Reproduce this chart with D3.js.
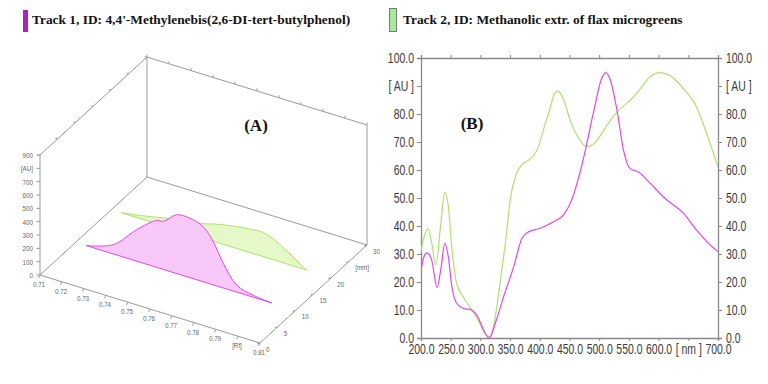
<!DOCTYPE html>
<html><head><meta charset="utf-8">
<script src="https://cdn.jsdelivr.net/npm/d3@7"></script>
<style>
html,body{margin:0;padding:0;background:#fff;}
svg{display:block;}
.ax text, text.ax{font-family:"Liberation Sans",Arial,sans-serif;}
</style></head>
<body>
<svg id="c" width="768" height="384"></svg>
<script>
// ---------- DATA ----------
const legendLabels = ["Track 1, ID: 4,4'-Methylenebis(2,6-DI-tert-butylphenol)", "Track 2, ID: Methanolic extr. of flax microgreens"];
const panelLabels = ["(A)", "(B)"];

// 3D densitogram (panel A)
const rfTicks = [0.71,0.72,0.73,0.74,0.75,0.76,0.77,0.78,0.79,0.80,0.81];
const rfTickLabels = ["0.71","0.72","0.73","0.74","0.75","0.76","0.77","0.78","0.79","[Rf]","0.81"];
const mmTicks = [0,5,10,15,20,25,30];
const mmTickLabels = ["0","5","10","15","20","[mm]","30"];
const auTicks3d = [0,100,200,300,400,500,600,700,800,900];
const auTickLabels3d = ["0","100","200","300","400","500","600","700","[AU]","900"];
const track1Pos = 10, track2Pos = 20;
const track1Rf = [0.7147,0.7271,0.7377,0.7468,0.7498,0.7559,0.762,0.768,0.7726,0.7771,0.7832,0.7907,0.7991];
const track1AU = [0,70,236,352,360,441,446,412,322,185,52,15,0];
const track2Rf = [0.7145,0.7261,0.7336,0.7473,0.7533,0.7563,0.7639,0.773,0.7791,0.7836,0.7897,0.7943,0.7988];
const track2AU = [0,33,59,95,114,129,155,176,181,155,98,45,0];

// 2D spectra (panel B)
const nmTicks = [200,250,300,350,400,450,500,550,600,650,700];
const nmTickLabels = ["200.0","250.0","300.0","350.0","400.0","450.0","500.0","550.0","600.0","[ nm ]","700.0"];
const auTicks = [0,10,20,30,40,50,60,70,80,90,100];
const auTickLabels = ["0.0","10.0","20.0","30.0","40.0","50.0","60.0","70.0","80.0","[ AU ]","100.0"];
const spec1Nm = [200,205,210,218,227,234,240,246,252,260,271,285,297,303,308,315,325,339,356,370,381,400,423,440,455,465,475,490,504,511,518,530,541,552,566,586,611,642,664,684,700];
const spec1AU = [24.3,29,30.4,27.8,18.1,25.4,33.8,29,18.3,12.4,10.6,10,7,4,1.7,0,5.2,14.7,25.4,35.6,37.9,39.1,41.5,44,50,57,65.5,80.2,92.6,94.8,92.6,81.3,67,60.5,59.3,55.2,49.8,44.5,38.5,33.8,30.8];
const spec2Nm = [200,205,212,218,225,233,240,246,252,260,271,282,296,304,310,316,322,333,344,350,361,372,380,395,411,418,424,430,436,442,451,468,479,487,496,515,530,555,569,585,602,619,642,661,681,700];
const spec2AU = [31,36,39,34,26,40,52,47,32,19.5,14.7,11.2,6.4,3,1,0.5,4,19.5,37.4,49,58.8,62.3,63.3,67,77.8,82.5,87,88.2,87,84,77.8,70.6,68.3,68.8,70.6,76.6,80.7,85.5,89,93.2,94.8,93.8,89,83.7,73,61];

// ---------- DRAW ----------
const svg = d3.select("#c");
const col1 = "#e048e8", fill1 = "#f8c8f8";
const col2 = "#b0e070", fill2 = "#e4f8c8";
const boxCol = "#9a9a9a";

function narrow(sel, k){
  sel.each(function(){
    const w = this.getComputedTextLength();
    if (w > 0) { this.setAttribute("textLength", (w*k).toFixed(2)); this.setAttribute("lengthAdjust","spacingAndGlyphs"); }
  });
}

// Legend
svg.append("rect").attr("x",23).attr("y",10).attr("width",5).attr("height",22).attr("fill","#b41cc4");
svg.append("rect").attr("x",389.5).attr("y",8.5).attr("width",7).attr("height",23).attr("fill","#a8e8a0").attr("stroke","#708070");
svg.selectAll("text.leg").data(legendLabels).enter().append("text")
  .attr("x",(d,i)=>i?403:32).attr("y",24)
  .attr("font-family","'Liberation Serif','Times New Roman',serif").attr("font-weight","bold")
  .attr("font-size",13.4).attr("fill","#111").text(d=>d);

// ---------- Panel A: 3D ----------
const rS = d3.scaleLinear().domain([0.71,0.81]).range([0,1]);
const nS = d3.scaleLinear().domain([0,30]).range([0,1]);
const zS = d3.scaleLinear().domain([0,900]).range([0,1]);
const O = [40,275], vR=[220,68], vN=[107,-98], vZ=[0,-120];
function P(rf,mm,au){
  const a=rS(rf), b=nS(mm), c=zS(au);
  return [O[0]+a*vR[0]+b*vN[0]+c*vZ[0], O[1]+a*vR[1]+b*vN[1]+c*vZ[1]];
}
const gA = svg.append("g");
function seg(p,q){ gA.append("line").attr("x1",p[0]).attr("y1",p[1]).attr("x2",q[0]).attr("y2",q[1]).attr("stroke",boxCol).attr("stroke-width",1); }
const r0=0.71,r1=0.81,m0=0,m1=30,z0=0,z1=900;
seg(P(r0,m0,z0),P(r0,m0,z1));
seg(P(r0,m0,z1),P(r0,m1,z1));
seg(P(r0,m1,z0),P(r0,m1,z1));
seg(P(r0,m0,z0),P(r0,m1,z0));
seg(P(r0,m1,z1),P(r1,m1,z1));
seg(P(r1,m1,z0),P(r1,m1,z1));
seg(P(r0,m1,z0),P(r1,m1,z0));
seg(P(r0,m0,z0),P(r1,m0,z0));
seg(P(r1,m0,z0),P(r1,m1,z0));

rfTicks.forEach(r=>{ const p=P(r,m1,z1); seg(p,[p[0],p[1]-2.5]); });
mmTicks.forEach(m=>{ const p=P(r0,m,z1); seg(p,[p[0]-2.5,p[1]]); });
auTicks3d.forEach(z=>{ const p=P(r0,m0,z); seg([p[0]-3.5,p[1]],p); });
rfTicks.forEach(r=>{ const p=P(r,m0,z0); seg(p,[p[0]-1.5,p[1]+3]); });
mmTicks.forEach(m=>{ const p=P(r1,m,z0); seg(p,[p[0]-3,p[1]+1]); });

auTicks3d.forEach((z,i)=>{ const p=P(r0,m0,z);
  gA.append("text").attr("class","ax a3").attr("x",p[0]-7).attr("y",p[1]+3).attr("text-anchor","end")
   .attr("font-size",8).attr("fill","#666").text(auTickLabels3d[i]); });
rfTicks.forEach((r,i)=>{ const p=P(r,m0,z0);
  gA.append("text").attr("class","ax a3").attr("x",p[0]-1).attr("y",p[1]+12).attr("text-anchor","middle")
   .attr("font-size",8).attr("fill","#666").text(rfTickLabels[i]); });
mmTicks.forEach((m,i)=>{ const p=P(r1,m,z0);
  gA.append("text").attr("class","ax a3").attr("x",p[0]+6).attr("y",p[1]+9).attr("text-anchor","start")
   .attr("font-size",8).attr("fill","#666").text(mmTickLabels[i]); });
narrow(gA.selectAll("text.a3"), 0.78);

function track(rfs,aus,mm,stroke,fill){
  const top = rfs.map((r,i)=>P(r,mm,aus[i]));
  const base = [P(rfs[rfs.length-1],mm,0),P(rfs[0],mm,0)];
  const line = d3.line().curve(d3.curveCatmullRom.alpha(0.5));
  const d = line(top) + "L" + base[0].join(",") + "L" + base[1].join(",") + "Z";
  gA.append("path").attr("d",d).attr("fill",fill).attr("stroke",stroke).attr("stroke-width",1).attr("stroke-linejoin","round");
}
track(track2Rf,track2AU,track2Pos,col2,fill2);
track(track1Rf,track1AU,track1Pos,col1,fill1);

gA.append("text").attr("x",256).attr("y",131).attr("text-anchor","middle")
  .attr("font-family","'Liberation Serif','Times New Roman',serif").attr("font-weight","bold")
  .attr("font-size",17).attr("fill","#111").text(panelLabels[0]);

// ---------- Panel B: 2D ----------
const L=421,R=718,T=58,B=338;
const x = d3.scaleLinear().domain([200,700]).range([L,R]);
const y = d3.scaleLinear().domain([0,100]).range([B,T]);
const gB = svg.append("g");
gB.append("defs").append("clipPath").attr("id","clipB").append("rect").attr("x",L).attr("y",T-2).attr("width",R-L).attr("height",B-T+2);

const axCol="#888", txtCol="#3a3a3a";
const fs=14.5;
const axL = d3.axisLeft(y).tickValues(auTicks).tickSize(4).tickFormat((d,i)=>auTickLabels[i]);
const axR = d3.axisRight(y).tickValues(auTicks).tickSize(4).tickFormat((d,i)=>auTickLabels[i]);
const axBt = d3.axisBottom(x).tickValues(nmTicks).tickSize(3).tickFormat((d,i)=>nmTickLabels[i]);
const axTp = d3.axisTop(x).tickValues(nmTicks).tickSize(3).tickFormat("");
function styleAx(g){
  g.attr("class","ax").attr("font-family",null).attr("font-size",fs);
  g.selectAll("path.domain").attr("stroke",axCol).attr("stroke-width",1.3);
  g.selectAll("line").attr("stroke",axCol);
  g.selectAll("text").attr("fill",txtCol);
}
const gl = gB.append("g").attr("transform",`translate(${L},0)`).call(axL).call(styleAx);
gl.selectAll("text").attr("x",-7);
const gr = gB.append("g").attr("transform",`translate(${R},0)`).call(axR).call(styleAx);
gr.selectAll("text").attr("x",8);
const gb = gB.append("g").attr("transform",`translate(0,${B})`).call(axBt).call(styleAx);
gb.selectAll("text").attr("y",6);
gB.append("g").attr("transform",`translate(0,${T})`).call(axTp).call(styleAx);
narrow(gl.selectAll("text"),0.72);
narrow(gr.selectAll("text"),0.72);
narrow(gb.selectAll("text"),0.72);

const ln = d3.line().x((d)=>x(d[0])).y(d=>y(d[1])).curve(d3.curveMonotoneX);
gB.append("path").datum(spec2Nm.map((n,i)=>[n,spec2AU[i]])).attr("d",ln).attr("fill","none")
  .attr("stroke",col2).attr("stroke-width",1.2).attr("clip-path","url(#clipB)");
gB.append("path").datum(spec1Nm.map((n,i)=>[n,spec1AU[i]])).attr("d",ln).attr("fill","none")
  .attr("stroke",col1).attr("stroke-width",1.2).attr("clip-path","url(#clipB)");

gB.append("text").attr("x",472).attr("y",129).attr("text-anchor","middle")
  .attr("font-family","'Liberation Serif','Times New Roman',serif").attr("font-weight","bold")
  .attr("font-size",17).attr("fill","#111").text(panelLabels[1]);
</script>
</body></html>
